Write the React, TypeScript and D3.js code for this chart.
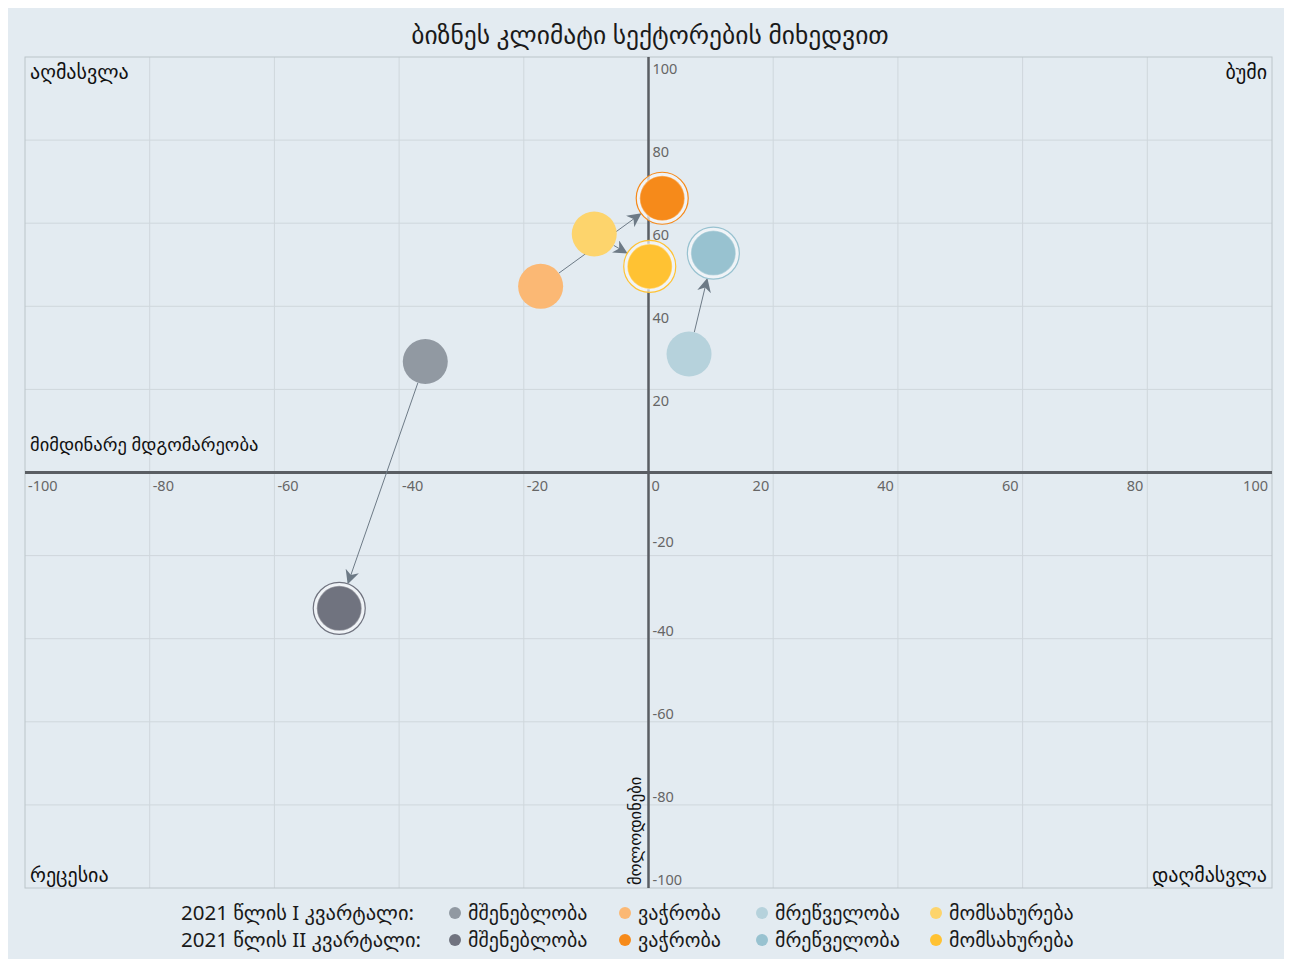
import * as d3 from 'd3';

// sectors and quarters
const sectors = ['მშენებლობა', 'ვაჭრობა', 'მრეწველობა', 'მომსახურება'];
const quarterLabels = ['2021 წლის I კვარტალი:', '2021 წლის II კვარტალი:'];
const q1X = [-35.8, -17.3, 6.5, -8.7];
const q1Y = [26.7, 44.8, 28.5, 57.4];
const q2X = [-49.6, 2.2, 10.4, 0.2];
const q2Y = [-32.7, 66.0, 52.8, 49.6];
const q1Colors = ['#9199a2', '#fbb874', '#b6d2dc', '#fdd46c'];
const q2Colors = ['#70737f', '#f68a1a', '#98c2d0', '#ffc233'];
const xTicks = [-100, -80, -60, -40, -20, 0, 20, 40, 60, 80, 100];
const yTicks = [-100, -80, -60, -40, -20, 20, 40, 60, 80, 100];

const W = 1276;
const H = 951;
const font = "'Noto Sans', 'DejaVu Sans', sans-serif";
const plot = { left: 17, right: 1264, top: 49, bottom: 880 };

export default function App() {
  const x = d3.scaleLinear().domain([-100, 100]).range([plot.left, plot.right]);
  const y = d3.scaleLinear().domain([-100, 100]).range([plot.bottom, plot.top]);
  const r = 22.5;
  const ring = 26;

  const arrows = sectors.map((_, i) => {
    const x1 = x(q1X[i]), y1 = y(q1Y[i]);
    const x2 = x(q2X[i]), y2 = y(q2Y[i]);
    const len = Math.hypot(x2 - x1, y2 - y1);
    const ux = (x2 - x1) / len, uy = (y2 - y1) / len;
    return {
      x1: x1 + ux * r,
      y1: y1 + uy * r,
      x2: x2 - ux * (ring + 1),
      y2: y2 - uy * (ring + 1),
    };
  });

  const legendX = [447, 617, 754, 928];

  // positive labels hang under the tick, negative ones sit above it
  const yLabelPos = (t: number) => (t > 0 ? y(t) + 17 : t === -20 ? y(t) - 9 : y(t) - 3);

  return (
    <svg width={W} height={H} style={{ display: 'block' }} fontFamily={font}>
      <defs>
        <marker id='arrow' viewBox='0 0 10 10' refX='9' refY='5' markerWidth='14' markerHeight='14' markerUnits='userSpaceOnUse' orient='auto'>
          <path d='M0,0 L10,5 L0,10 L3,5 Z' fill='#6d7a86' />
        </marker>
      </defs>
      <rect x={0} y={0} width={W} height={H} fill='#e3ebf1' />
      <text x={642} y={36} textAnchor='middle' fontSize={25.5} fill='#1a1a1a'>
        ბიზნეს კლიმატი სექტორების მიხედვით
      </text>

      {/* grid */}
      {xTicks.slice(1, -1).map((t) => (
        <line key={'gx' + t} x1={x(t)} x2={x(t)} y1={plot.top} y2={plot.bottom} stroke='#cfd7dc' strokeWidth={1} />
      ))}
      {yTicks.slice(1, -1).map((t) => (
        <line key={'gy' + t} x1={plot.left} x2={plot.right} y1={y(t)} y2={y(t)} stroke='#cfd7dc' strokeWidth={1} />
      ))}
      <rect x={plot.left} y={plot.top} width={plot.right - plot.left} height={plot.bottom - plot.top} fill='none' stroke='#bcc5ca' strokeWidth={1} />

      {/* axes */}
      <line x1={plot.left} x2={plot.right} y1={y(0)} y2={y(0)} stroke='#5a5e63' strokeWidth={3} />
      <line x1={x(0)} x2={x(0)} y1={plot.top} y2={plot.bottom} stroke='#5a5e63' strokeWidth={2.5} />

      {xTicks.map((t) => (
        <text
          key={'tx' + t}
          x={t <= 0 ? x(t) + 3 : x(t) - 4}
          y={y(0) + 18}
          textAnchor={t <= 0 ? 'start' : 'end'}
          fontSize={14.5}
          fill='#666'
        >
          {t}
        </text>
      ))}
      {yTicks.map((t) => (
        <text key={'ty' + t} x={x(0) + 4} y={yLabelPos(t)} fontSize={14.5} fill='#666'>
          {t}
        </text>
      ))}

      {/* quadrant labels */}
      <text x={plot.left + 5} y={plot.top + 22} fontSize={20} fill='#111'>აღმასვლა</text>
      <text x={plot.right - 5} y={plot.top + 22} fontSize={20} fill='#111' textAnchor='end'>ბუმი</text>
      <text x={plot.left + 5} y={plot.bottom - 6} fontSize={20} fill='#111'>რეცესია</text>
      <text x={plot.right - 5} y={plot.bottom - 6} fontSize={20} fill='#111' textAnchor='end'>დაღმასვლა</text>
      <text x={plot.left + 5} y={y(0) - 22} fontSize={18.5} fill='#111'>მიმდინარე მდგომარეობა</text>
      <text
        transform={`translate(${x(0) - 8},${plot.bottom - 3}) rotate(-90)`}
        fontSize={16.5}
        fill='#111'
      >
        მოლოდინები
      </text>

      {/* arrows */}
      {arrows.map((a, i) => (
        <line key={'a' + i} x1={a.x1} y1={a.y1} x2={a.x2} y2={a.y2} stroke='#6d7a86' strokeWidth={1} markerEnd='url(#arrow)' />
      ))}

      {/* quarter 1 bubbles */}
      {sectors.map((s, i) => (
        <circle key={'q1' + s} cx={x(q1X[i])} cy={y(q1Y[i])} r={r} fill={q1Colors[i]} />
      ))}
      {/* quarter 2 bubbles */}
      {sectors.map((s, i) => (
        <g key={'q2' + s} transform={`translate(${x(q2X[i])},${y(q2Y[i])})`}>
          <circle r={ring} fill='#f4f7f9' fillOpacity={0.7} stroke={q2Colors[i]} strokeWidth={1.2} />
          <circle r={r} fill={q2Colors[i]} stroke='#ffffff' strokeOpacity={0.35} strokeWidth={1.5} />
        </g>
      ))}

      {/* legend */}
      {quarterLabels.map((q, row) => (
        <g key={'lg' + row} transform={`translate(0,${905 + row * 27})`}>
          <text x={173} y={7} fontSize={20.5} fill='#1a1a1a'>{q}</text>
          {sectors.map((s, i) => (
            <g key={s}>
              <circle cx={legendX[i]} cy={0} r={6} fill={row === 0 ? q1Colors[i] : q2Colors[i]} />
              <text x={legendX[i] + 13} y={7} fontSize={20} fill='#1a1a1a'>{s}</text>
            </g>
          ))}
        </g>
      ))}
    </svg>
  );
}
